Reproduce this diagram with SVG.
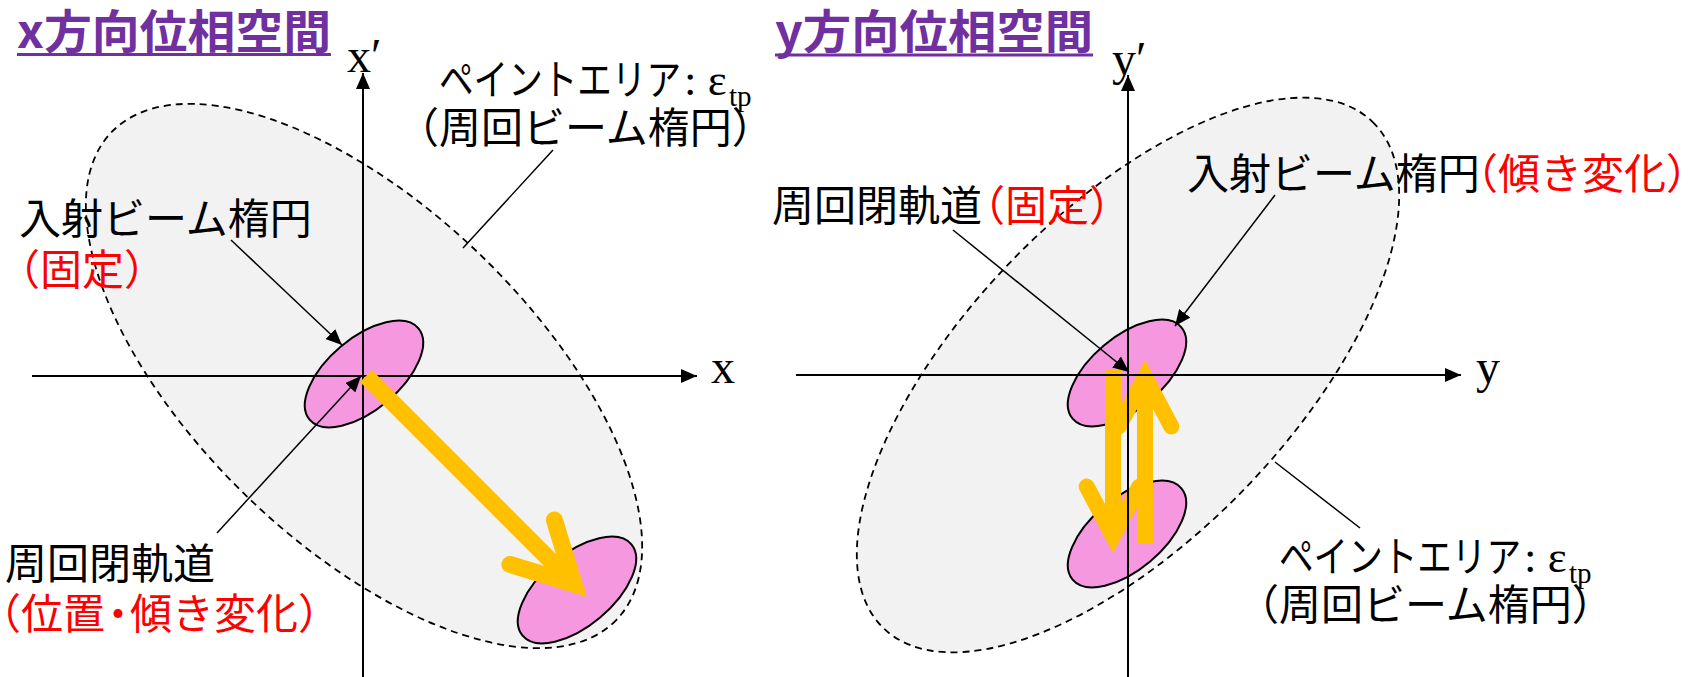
<svg xmlns="http://www.w3.org/2000/svg" width="1688" height="677" viewBox="0 0 1688 677">
<defs>
<style>
.t { font-family: "Noto Sans CJK JP", "Noto Sans", sans-serif; font-size: 42px; fill: #000; }
.red { fill: #FF0000; }
.title { font-family: "Noto Sans CJK JP", "Noto Sans", sans-serif; font-weight: bold; font-size: 46px; fill: #7030A0; }
.uline { stroke: #7030A0; stroke-width: 3; }
.serif { font-family: "Liberation Serif", "Times New Roman", serif; fill: #000; }
.area { fill: #F2F2F2; stroke: #000; stroke-width: 1.8; stroke-dasharray: 7 5; }
.beam { fill: #F598DF; stroke: #000; stroke-width: 2; }
.axis { stroke: #000; stroke-width: 2; fill: none; }
.lead { stroke: #000; stroke-width: 1.5; fill: none; }
.yarm { stroke: #FFC000; stroke-width: 17; fill: none; stroke-linecap: round; stroke-linejoin: miter; }
.yshaft { stroke: #FFC000; stroke-width: 17; stroke-linecap: butt; fill: none; }
.yarm2 { stroke: #FFC000; stroke-width: 16; fill: none; stroke-linecap: round; stroke-linejoin: miter; }
.yshaft2 { stroke: #FFC000; stroke-width: 16; stroke-linecap: butt; fill: none; }
</style>
<marker id="ah" markerUnits="userSpaceOnUse" markerWidth="16" markerHeight="14" refX="16" refY="7" orient="auto">
<path d="M0,0 L16,7 L0,14 z" fill="#000"/>
</marker>
</defs>
<rect width="1688" height="677" fill="#FFFFFF"/>

<!-- LEFT PANEL -->
<g id="x-title">
<text class="title" x="17" y="48" textLength="314" lengthAdjust="spacingAndGlyphs">x方向位相空間</text>
<line class="uline" x1="17" y1="54.5" x2="331" y2="54.5"/>
</g>
<g id="x-paint-area">
<ellipse class="area" cx="364" cy="376" rx="351" ry="168" transform="rotate(44 364 376)"/>
</g>
<g id="x-inj-beam">
<ellipse class="beam" cx="364" cy="374" rx="71" ry="36" transform="rotate(-40 364 374)"/>
</g>
<g id="x-inj-beam-shifted">
<ellipse class="beam" cx="577" cy="590" rx="71" ry="36" transform="rotate(-40 577 590)"/>
</g>
<g id="x-axes">
<line class="axis" x1="363" y1="677" x2="363" y2="73" marker-end="url(#ah)"/>
<line class="axis" x1="32" y1="376" x2="697" y2="376" marker-end="url(#ah)"/>
<text class="serif" x="347" y="72" font-size="48">x′</text>
<text class="serif" x="711" y="383" font-size="48">x</text>
</g>
<g id="x-yellow-arrow">
<line class="yshaft" x1="366" y1="376" x2="574" y2="584"/>
<path class="yarm" d="M554.4,519.9 L574,584 L509.9,564.4"/>
</g>
<g id="x-connectors">
<line class="lead" x1="231" y1="240" x2="342" y2="345" marker-end="url(#ah)"/>
<line class="lead" x1="217" y1="533" x2="361" y2="376" marker-end="url(#ah)"/>
<line class="lead" x1="553" y1="150" x2="463" y2="248"/>
</g>
<g id="x-label-paint">
<text class="t" x="439" y="95" textLength="242" lengthAdjust="spacingAndGlyphs">ペイントエリア</text>
<text class="serif" x="684" y="95" font-size="45">: ε</text>
<text class="serif" x="729" y="106" font-size="29">tp</text>
<text class="t" x="397" y="143">（周回ビーム楕円）</text>
</g>
<g id="x-label-inj">
<text class="t" x="19" y="234">入射ビーム楕円</text>
<text class="t red" x="-2" y="285">（固定）</text>
</g>
<g id="x-label-orbit">
<text class="t" x="5" y="579">周回閉軌道</text>
<text class="t red" x="-21" y="629">（位置</text>
<text class="t red" x="97" y="629">・</text>
<text class="t red" x="130" y="629">傾き変化）</text>
</g>

<!-- RIGHT PANEL -->
<g id="y-title">
<text class="title" x="775" y="48" textLength="318" lengthAdjust="spacingAndGlyphs">y方向位相空間</text>
<line class="uline" x1="775" y1="55" x2="1093" y2="55"/>
</g>
<g id="y-paint-area">
<ellipse class="area" cx="1128" cy="375" rx="352" ry="163" transform="rotate(-46 1128 375)"/>
</g>
<g id="y-inj-beam">
<ellipse class="beam" cx="1127" cy="373" rx="71" ry="36" transform="rotate(-40 1127 373)"/>
</g>
<g id="y-inj-beam-shifted">
<ellipse class="beam" cx="1127" cy="534" rx="71" ry="36" transform="rotate(-40 1127 534)"/>
</g>
<g id="y-yellow-arrows">
<line class="yshaft2" x1="1113" y1="369" x2="1113" y2="536"/>
<path class="yarm2" d="M1086.7,486.6 L1113,536 L1139.3,486.6"/>
<line class="yshaft2" x1="1145" y1="543" x2="1145" y2="377"/>
<path class="yarm2" d="M1118.7,426.4 L1145,377 L1171.3,426.4"/>
</g>
<g id="y-axes">
<line class="axis" x1="1128" y1="677" x2="1128" y2="75" marker-end="url(#ah)"/>
<line class="axis" x1="796" y1="375" x2="1461" y2="375" marker-end="url(#ah)"/>
<text class="serif" x="1112" y="75" font-size="48">y′</text>
<text class="serif" x="1476" y="383" font-size="48">y</text>
</g>
<g id="y-connectors">
<line class="lead" x1="953" y1="230" x2="1129" y2="372" marker-end="url(#ah)"/>
<line class="lead" x1="1275" y1="195" x2="1175" y2="326" marker-end="url(#ah)"/>
<line class="lead" x1="1275" y1="462" x2="1360" y2="528"/>
</g>
<g id="y-label-orbit">
<text class="t" x="772" y="221">周回閉軌道</text>
<text class="t red" x="963" y="221">（固定）</text>
</g>
<g id="y-label-inj">
<text class="t" x="1187" y="189">入射ビーム楕円</text>
<text class="t red" x="1456" y="189">（傾き変化）</text>
</g>
<g id="y-label-paint">
<text class="t" x="1279" y="572" textLength="242" lengthAdjust="spacingAndGlyphs">ペイントエリア</text>
<text class="serif" x="1524" y="572" font-size="45">: ε</text>
<text class="serif" x="1569" y="583" font-size="29">tp</text>
<text class="t" x="1237" y="620">（周回ビーム楕円）</text>
</g>
</svg>
